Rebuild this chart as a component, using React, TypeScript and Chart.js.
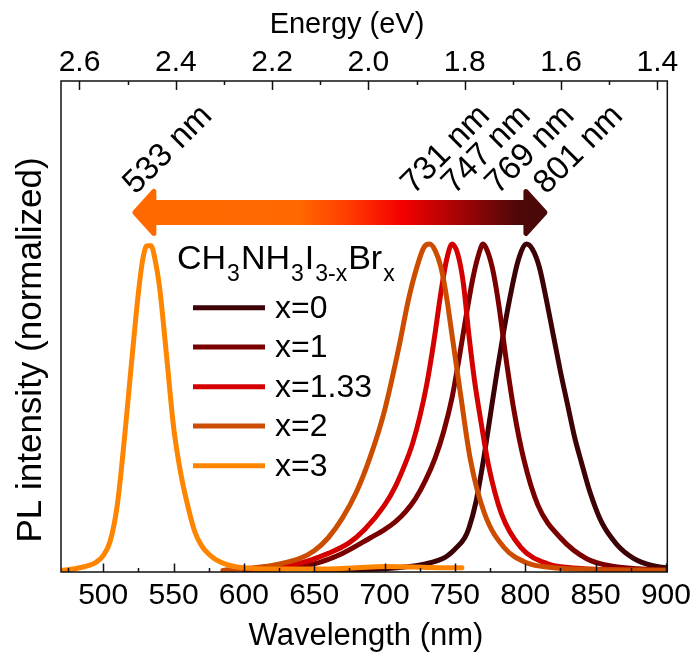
import React, { useEffect, useRef } from 'react';
import { Chart, registerables } from 'chart.js';

Chart.register(...registerables);

const FONT = '"Liberation Sans", Arial, Helvetica, sans-serif';

// ---- axis ticks ----
const wavelengthTicks = [500, 550, 600, 650, 700, 750, 800, 850, 900];
const wavelengthMinorTicks = [475, 525, 575, 625, 675, 725, 775, 825, 875];
const energyTicks = [2.6, 2.4, 2.2, 2.0, 1.8, 1.6, 1.4];
const energyMinorTicks = [2.5, 2.3, 2.1, 1.9, 1.7, 1.5];

// ---- series ----
const seriesLabels = ['x=0', 'x=1', 'x=1.33', 'x=2', 'x=3'];
const seriesColors = ['#3d0206', '#7a0000', '#d40000', '#cc4c00', '#ff8400'];

const x0Wavelength = [650, 700, 729, 743, 750, 757, 760, 765, 770, 775, 780, 785, 790, 795, 801, 805, 810, 815, 820, 825, 830, 835, 840, 846, 854, 865, 877, 890, 900];
const x0Intensity = [0, 0.005, 0.02, 0.04, 0.065, 0.1, 0.13, 0.21, 0.33, 0.47, 0.61, 0.74, 0.855, 0.95, 1.0, 0.985, 0.93, 0.83, 0.72, 0.61, 0.51, 0.41, 0.33, 0.24, 0.15, 0.08, 0.037, 0.015, 0.008];

const x1Wavelength = [610, 630, 650, 670, 690, 700, 708, 715, 722, 729, 736, 742, 748, 753, 758, 763, 767, 770, 773, 777, 781, 786, 792, 799, 809, 825, 844, 863, 880, 900];
const x1Intensity = [0, 0.006, 0.02, 0.052, 0.1, 0.125, 0.15, 0.18, 0.22, 0.275, 0.345, 0.425, 0.53, 0.65, 0.78, 0.9, 0.97, 1.0, 0.98, 0.92, 0.82, 0.66, 0.49, 0.34, 0.2, 0.1, 0.035, 0.012, 0.005, 0.002];

const x133Wavelength = [600, 620, 640, 660, 675, 686, 700, 708, 715, 720, 725, 730, 735, 740, 744, 748, 752, 756, 760, 764, 768, 774, 783, 797, 816, 840, 870, 900];
const x133Intensity = [0, 0.008, 0.022, 0.052, 0.085, 0.126, 0.2, 0.26, 0.33, 0.39, 0.47, 0.57, 0.7, 0.85, 0.95, 1.0, 0.97, 0.88, 0.72, 0.58, 0.47, 0.32, 0.175, 0.07, 0.02, 0.006, 0.002, 0];

const x2Wavelength = [585, 600, 620, 640, 650, 660, 670, 680, 690, 700, 710, 717, 723, 728, 732, 736, 740, 744, 748, 754, 761, 771, 785, 800, 820, 850, 900];
const x2Intensity = [0, 0.005, 0.015, 0.037, 0.06, 0.1, 0.16, 0.24, 0.35, 0.49, 0.68, 0.83, 0.93, 0.99, 1.0, 0.98, 0.93, 0.84, 0.72, 0.54, 0.34, 0.175, 0.07, 0.025, 0.008, 0.003, 0];

const x3Wavelength = [470, 480, 490, 495, 500, 505, 510, 515, 520, 525, 528, 531, 534, 537, 540, 545, 550, 555, 560, 565, 570, 575, 580, 590, 600, 620, 650, 680, 700, 720, 740, 755];
const x3Intensity = [0, 0.005, 0.015, 0.025, 0.045, 0.09, 0.2, 0.4, 0.63, 0.85, 0.95, 0.995, 0.995, 0.95, 0.87, 0.66, 0.44, 0.3, 0.2, 0.12, 0.075, 0.05, 0.033, 0.015, 0.008, 0.004, 0.004, 0.008, 0.012, 0.01, 0.008, 0.008];

const seriesWavelengths = [x0Wavelength, x1Wavelength, x133Wavelength, x2Wavelength, x3Wavelength];
const seriesIntensities = [x0Intensity, x1Intensity, x133Intensity, x2Intensity, x3Intensity];

// ---- annotation texts ----
const peakLabels = ['533 nm', '731 nm', '747 nm', '769 nm', '801 nm'];
const legendTitleParts: [string, boolean][] = [
  ['CH', false], ['3', true], ['NH', false], ['3', true], ['I', false], ['3-x', true], ['Br', false], ['x', true],
];

const xTitle = 'Wavelength (nm)';
const x2Title = 'Energy (eV)';
const yTitle = 'PL intensity (normalized)';

// layout constants (data-space anchors for annotations)
const LABEL_ANCHORS_NM = [523, 720.5, 749.5, 780.5, 815];
const LABEL_ANCHOR_Y = 1.15;
const ARROW_LEFT_NM = 522.5;
const ARROW_RIGHT_NM = 814;
const ARROW_Y = 1.097;

const overlayPlugin = {
  id: 'overlay',
  afterDatasetsDraw(chart: any) {
    const { ctx, chartArea: a, scales } = chart;
    const xs = scales.x;
    const x2 = scales.x2;
    const ys = scales.y;
    ctx.save();

    // frame
    ctx.strokeStyle = '#111';
    ctx.lineWidth = 1.5;
    ctx.strokeRect(a.left, a.top, a.right - a.left, a.bottom - a.top);

    // inward ticks
    ctx.beginPath();
    for (const v of wavelengthTicks) {
      const p = Math.round(xs.getPixelForValue(v)) + 0.5;
      ctx.moveTo(p, a.bottom); ctx.lineTo(p, a.bottom - 8.5);
    }
    for (const v of wavelengthMinorTicks) {
      const p = Math.round(xs.getPixelForValue(v)) + 0.5;
      ctx.moveTo(p, a.bottom); ctx.lineTo(p, a.bottom - 4);
    }
    for (const v of energyTicks) {
      const p = Math.round(x2.getPixelForValue(v)) + 0.5;
      ctx.moveTo(p, a.top); ctx.lineTo(p, a.top + 9);
    }
    for (const v of energyMinorTicks) {
      const p = Math.round(x2.getPixelForValue(v)) + 0.5;
      ctx.moveTo(p, a.top); ctx.lineTo(p, a.top + 4);
    }
    ctx.stroke();

    // gradient double arrow
    const lx = xs.getPixelForValue(ARROW_LEFT_NM);
    const rx = xs.getPixelForValue(ARROW_RIGHT_NM);
    const cy = ys.getPixelForValue(ARROW_Y);
    const headLen = 19;
    const headH = 21;
    const shaftH = 10;
    const grad = ctx.createLinearGradient(lx, 0, rx, 0);
    grad.addColorStop(0, '#ff6a00');
    grad.addColorStop(0.4, '#ff6800');
    grad.addColorStop(0.52, '#ff3c00');
    grad.addColorStop(0.65, '#f50000');
    grad.addColorStop(0.8, '#a00404');
    grad.addColorStop(0.93, '#4f0808');
    grad.addColorStop(1, '#4a0808');
    ctx.beginPath();
    ctx.moveTo(lx, cy);
    ctx.lineTo(lx + headLen, cy - headH);
    ctx.lineTo(lx + headLen, cy - shaftH);
    ctx.lineTo(rx - headLen, cy - shaftH);
    ctx.lineTo(rx - headLen, cy - headH);
    ctx.lineTo(rx, cy);
    ctx.lineTo(rx - headLen, cy + headH);
    ctx.lineTo(rx - headLen, cy + shaftH);
    ctx.lineTo(lx + headLen, cy + shaftH);
    ctx.lineTo(lx + headLen, cy + headH);
    ctx.closePath();
    ctx.fillStyle = grad;
    ctx.strokeStyle = grad;
    ctx.lineJoin = 'round';
    ctx.lineWidth = 5;
    ctx.fill();
    ctx.stroke();

    // rotated peak labels
    ctx.fillStyle = '#000';
    ctx.font = `33px ${FONT}`;
    ctx.textAlign = 'left';
    ctx.textBaseline = 'alphabetic';
    peakLabels.forEach((t, i) => {
      const px = xs.getPixelForValue(LABEL_ANCHORS_NM[i]);
      const py = ys.getPixelForValue(LABEL_ANCHOR_Y);
      ctx.save();
      ctx.translate(px, py);
      ctx.rotate(-Math.PI / 4);
      ctx.fillText(t, 0, 0);
      ctx.restore();
    });

    // legend title with subscripts
    let tx = 177;
    const tBase = 269;
    for (const [part, sub] of legendTitleParts) {
      ctx.font = sub ? `23px ${FONT}` : `34px ${FONT}`;
      ctx.fillText(part, tx, sub ? tBase + 12 : tBase);
      tx += ctx.measureText(part).width + 1;
    }

    // legend entries
    const rowY = [307.7, 347, 386.7, 426, 465.7];
    ctx.font = `32px ${FONT}`;
    ctx.textBaseline = 'middle';
    seriesLabels.forEach((lab, i) => {
      ctx.strokeStyle = seriesColors[i];
      ctx.lineWidth = 5;
      ctx.beginPath();
      ctx.moveTo(193, rowY[i]);
      ctx.lineTo(265, rowY[i]);
      ctx.stroke();
      ctx.fillStyle = '#000';
      ctx.fillText(lab, 275, rowY[i] + 1);
    });

    // axis titles
    ctx.fillStyle = '#000';
    ctx.textBaseline = 'alphabetic';
    ctx.textAlign = 'center';
    ctx.font = `31px ${FONT}`;
    ctx.fillText(xTitle, 366, 645);
    ctx.font = `29px ${FONT}`;
    ctx.fillText(x2Title, 347, 33);
    ctx.save();
    ctx.translate(41, 350);
    ctx.rotate(-Math.PI / 2);
    ctx.font = `35px ${FONT}`;
    ctx.fillText(yTitle, 0, 0);
    ctx.restore();

    ctx.restore();
  },
};

export default function App() {
  const ref = useRef<HTMLCanvasElement>(null);
  useEffect(() => {
    document.body.style.margin = '0';
    const datasets = seriesLabels.map((label, i) => ({
      label,
      data: seriesWavelengths[i].map((w, j) => ({ x: w, y: seriesIntensities[i][j] })),
      borderColor: seriesColors[i],
      backgroundColor: seriesColors[i],
      borderWidth: 5,
      pointRadius: 0,
      cubicInterpolationMode: 'monotone' as const,
      borderCapStyle: 'round' as const,
      borderJoinStyle: 'round' as const,
      fill: false,
      xAxisID: 'x',
      yAxisID: 'y',
      order: 4 - i,
    }));
    const chart = new Chart(ref.current!, {
      type: 'line',
      data: { datasets },
      plugins: [overlayPlugin],
      options: {
        responsive: false,
        animation: false,
        devicePixelRatio: 1,
        layout: { padding: { left: 61, right: 26, top: 0, bottom: 0 } },
        plugins: { legend: { display: false }, tooltip: { enabled: false } },
        scales: {
          x: {
            type: 'linear',
            position: 'bottom',
            min: 470,
            max: 901,
            grid: { display: false, drawTicks: false },
            border: { display: false },
            afterBuildTicks: (s: any) => { s.ticks = wavelengthTicks.map((v) => ({ value: v })); },
            afterFit: (s: any) => { s.height = 88; },
            ticks: {
              autoSkip: false,
              maxRotation: 0,
              padding: 6,
              color: '#000',
              font: { family: FONT, size: 30 },
              callback: (v: any) => String(v),
            },
          },
          x2: {
            type: 'linear',
            position: 'top',
            reverse: true,
            min: 1.3793,
            max: 2.6384,
            grid: { display: false, drawTicks: false },
            border: { display: false },
            afterBuildTicks: (s: any) => { s.ticks = energyTicks.map((v) => ({ value: v })); },
            afterFit: (s: any) => { s.height = 81; },
            ticks: {
              autoSkip: false,
              maxRotation: 0,
              padding: 0,
              color: '#000',
              font: { family: FONT, size: 30 },
              callback: (v: any) => Number(v).toFixed(1),
            },
          },
          y: {
            type: 'linear',
            display: false,
            min: -0.005,
            max: 1.5,
          },
        },
      },
    });
    return () => chart.destroy();
  }, []);
  return (
    <div style={{ width: 697, height: 660 }}>
      <canvas ref={ref} width={697} height={660} style={{ display: 'block' }} />
    </div>
  );
}
